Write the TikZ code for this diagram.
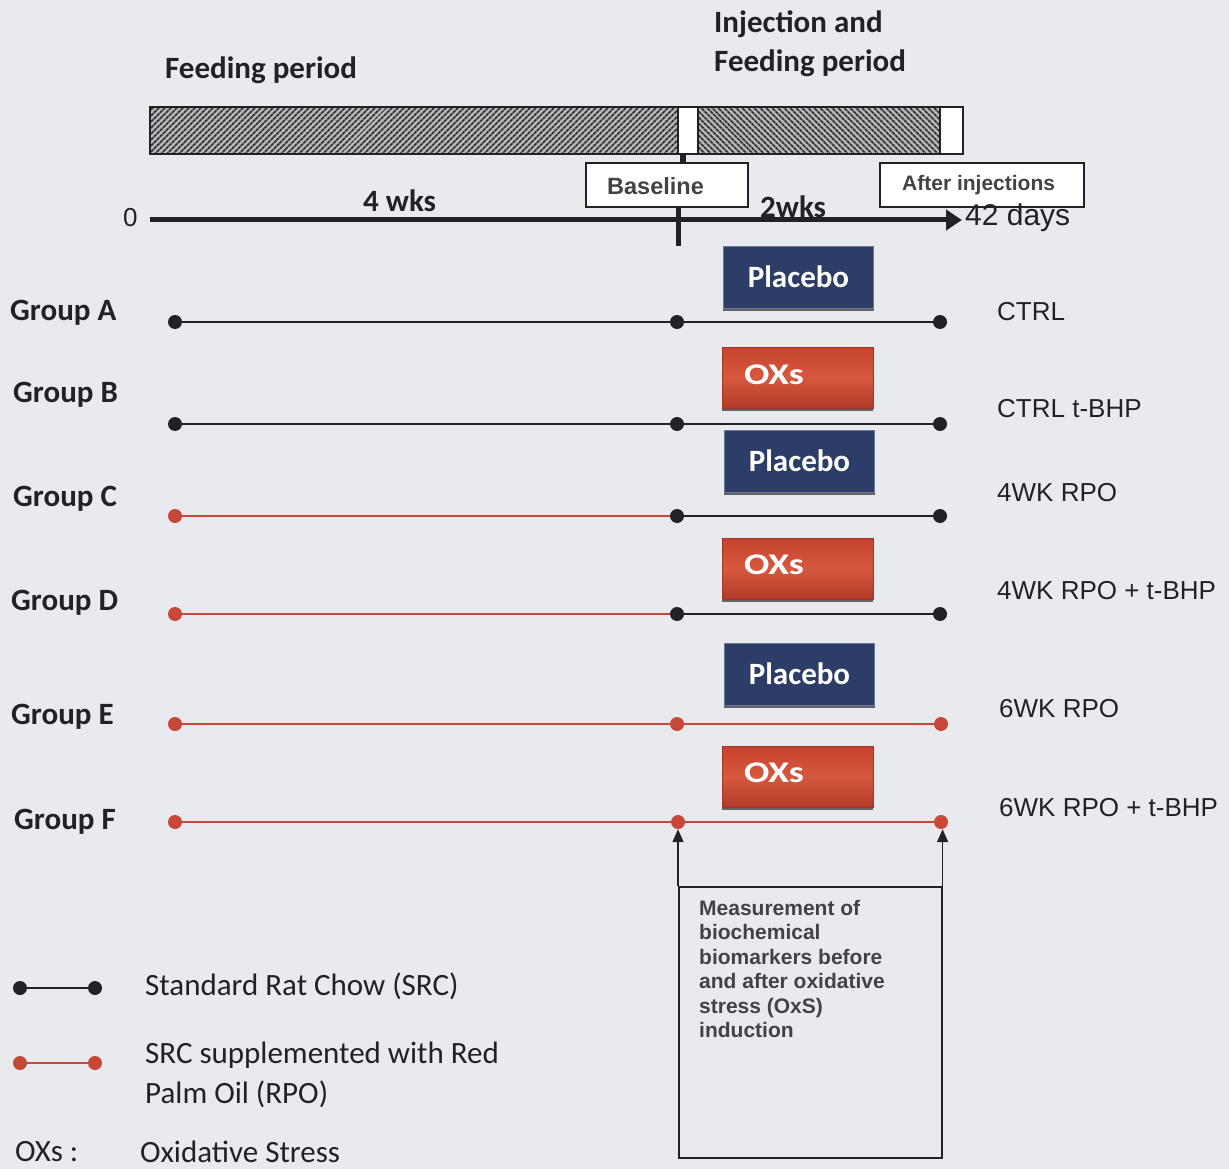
\documentclass[tikz,border=0pt]{standalone}
\usepackage{fontspec}
\setmainfont{Carlito}
\newfontfamily\arialf{Liberation Sans}
\usetikzlibrary{patterns.meta,arrows.meta}
\definecolor{bgc}{RGB}{233,234,238}
\definecolor{navy}{RGB}{44,62,104}
\definecolor{oxred}{RGB}{198,66,46}
\definecolor{oxlight}{RGB}{214,88,62}
\definecolor{rpo}{RGB}{200,72,56}
\definecolor{ink}{RGB}{34,34,38}
\begin{document}
\begin{tikzpicture}[x=1pt,y=-1pt,
  bdot/.style={circle,fill=ink,inner sep=0pt,minimum size=14pt},
  rdot/.style={circle,fill=rpo,inner sep=0pt,minimum size=14pt},
  bline/.style={draw=ink,line width=1.8pt},
  rline/.style={draw=rpo,line width=2pt},
  cal/.style={font=\fontsize{31}{37}\selectfont,text=ink,inner sep=0pt,anchor=west},
  calb/.style={font=\bfseries\fontsize{31}{37}\selectfont,text=ink,inner sep=0pt,anchor=west},
  arl/.style={font=\arialf\fontsize{26}{31}\selectfont,text=ink,inner sep=0pt,anchor=west},
  plac/.style={fill=navy,draw=navy!70!white,line width=0.8pt,minimum width=150pt,minimum height=62pt,inner sep=0pt,
     font=\bfseries\fontsize{31}{37}\selectfont,text=white},
  oxs/.style={draw=oxred!80!black,line width=0.6pt,top color=oxred,bottom color=oxred!90!black,middle color=oxlight,
     minimum width=151pt,minimum height=61pt,inner sep=0pt},
  oxt/.style={font=\bfseries\fontsize{30}{36}\selectfont,text=white,inner sep=0pt,anchor=west},
  lab/.style={draw=ink,line width=1.2pt,fill=white,inner sep=0pt,text=ink}
]
\useasboundingbox (0,0) rectangle (1229,1169);
\fill[bgc] (0,0) rectangle (1229,1169);

% titles
\node[calb] (t1) at (165,70) {Feeding period};
\node[calb] (t2) at (714,24) {Injection and};
\node[calb] (t3) at (714,63) {Feeding period};

% hatched bar
\fill[white] (150,107) rectangle (963,154);
\fill[gray!55] (150,107) rectangle (678,154);
\fill[gray!55] (698,107) rectangle (940,154);
\fill[pattern={Lines[angle=45,distance=4pt,line width=2.1pt]},pattern color=ink!90] (150,107) rectangle (678,154);
\fill[pattern={Lines[angle=-45,distance=4pt,line width=2.1pt]},pattern color=ink!90] (698,107) rectangle (940,154);
\draw[ink,line width=1.2pt] (150,107) rectangle (963,154);
\draw[ink,line width=1.2pt] (678,107) -- (678,154) (698,107) -- (698,154) (940,107) -- (940,154);

% label boxes
\node[lab,minimum width=162pt,minimum height=44pt] (base) at (667,185) {};
\node[font=\arialf\bfseries\fontsize{23.5}{28}\selectfont,text=ink!85,inner sep=0pt,anchor=west] (baset) at (607,186) {Baseline};
\node[lab,minimum width=204pt,minimum height=44pt] (after) at (982,185) {};
\node[font=\arialf\bfseries\fontsize{21}{25}\selectfont,text=ink!85,inner sep=0pt,anchor=west] (aftert) at (902,185) {After injections};
\draw[ink,line width=6pt] (683,154) -- (683,163);

% axis
\coordinate (ax0) at (150,220);
\coordinate (ax1) at (962,220);
\draw[ink,line width=5pt,-{Triangle[length=16pt,width=20pt]}] (ax0) -- (ax1);
\draw[ink,line width=5pt] (678,207) -- (678,246);
\node[arl] (zero) at (123,218) {0};
\node[arl,font=\arialf\fontsize{30}{35}\selectfont] (days) at (965,218) {42 days};
\node[calb] (w4) at (363,201) {4 wks};
\node[calb] (w2) at (760,207) {2wks};

% treatment boxes
\node[plac] (p1) at (798.5,277) {Placebo};
\node[oxs] (o1) at (797.5,377.5) {};
\node[plac] (p2) at (799.5,461) {Placebo};
\node[oxs] (o2) at (797.5,568.5) {};
\node[plac] (p3) at (799.5,674) {Placebo};
\node[oxs] (o3) at (797.5,777) {};
\foreach \b in {p1,o1,p2,o2,p3,o3}{
  \draw[ink!70,line width=2pt] ([yshift=-1.5pt]\b.south west) -- ([yshift=-1.5pt]\b.south east);
}
\node[oxt] (ox1t) at (744,375) {\scalebox{1.25}[1]{OXs}};
\node[oxt] (ox2t) at (744,565) {\scalebox{1.25}[1]{OXs}};
\node[oxt] (ox3t) at (744,773) {\scalebox{1.25}[1]{OXs}};

% group A
\node[calb] (ga) at (10,313) {Group A};
\node[bdot] (a1) at (175,322) {};
\node[bdot] (a2) at (677,322) {};
\node[bdot] (a3) at (940,322) {};
\draw[bline] (a1) -- (a2) -- (a3);
\node[arl] (ra) at (997,312) {CTRL};
% group B
\node[calb] (gb) at (13,395) {Group B};
\node[bdot] (b1) at (175,424) {};
\node[bdot] (b2) at (677,424) {};
\node[bdot] (b3) at (940,424) {};
\draw[bline] (b1) -- (b2) -- (b3);
\node[arl] (rb) at (997,409) {CTRL t-BHP};
% group C
\node[calb] (gc) at (13,499) {Group C};
\node[rdot] (c1) at (175,516) {};
\node[bdot] (c2) at (677,516) {};
\node[bdot] (c3) at (940,516) {};
\draw[rline] (c1) -- (c2);
\draw[bline] (c2) -- (c3);
\node[arl] (rc) at (997,493) {4WK RPO};
% group D
\node[calb] (gd) at (11,603) {Group D};
\node[rdot] (d1) at (175,614) {};
\node[bdot] (d2) at (677,614) {};
\node[bdot] (d3) at (940,614) {};
\draw[rline] (d1) -- (d2);
\draw[bline] (d2) -- (d3);
\node[arl] (rd) at (997,591) {4WK RPO + t-BHP};
% group E
\node[calb] (ge) at (11,717) {Group E};
\node[rdot] (e1) at (175,724) {};
\node[rdot] (e2) at (677,724) {};
\node[rdot] (e3) at (941,724) {};
\draw[rline] (e1) -- (e2) -- (e3);
\node[arl] (re) at (999,709) {6WK RPO};
% group F
\node[calb] (gf) at (14,822) {Group F};
\node[rdot] (f1) at (175,822) {};
\node[rdot] (f2) at (678,822) {};
\node[rdot] (f3) at (941,822) {};
\draw[rline] (f1) -- (f2) -- (f3);
\node[arl] (rf) at (999,808) {6WK RPO + t-BHP};

% measurement box
\node[draw=ink,line width=1.6pt,minimum width=263pt,minimum height=271pt,inner sep=0pt,anchor=north west] (meas) at (678,886) {};
\draw[ink,line width=1.6pt,-{Triangle[length=13pt,width=11pt]}] (meas.north west) -- (meas.north west |- f2.south);
\draw[ink,line width=1.6pt,-{Triangle[length=13pt,width=11pt]}] (meas.north east) -- (meas.north east |- f3.south);
\node[font=\arialf\bfseries\fontsize{21}{24.5}\selectfont,text=ink!85,align=left,inner sep=0pt,anchor=north west] (mtext) at (699,900)
 {Measurement of\\biochemical\\biomarkers before\\and after oxidative\\stress (OxS)\\induction};

% legend
\node[bdot] (l1) at (20,988) {};
\node[bdot] (l2) at (95,988) {};
\draw[bline] (l1) -- (l2);
\node[cal] (lt1) at (145,986) {Standard Rat Chow (SRC)};
\node[rdot] (l3) at (20,1063) {};
\node[rdot] (l4) at (95,1063) {};
\draw[rline] (l3) -- (l4);
\node[cal] (lt2) at (145,1055) {SRC supplemented with Red};
\node[cal] (lt3) at (145,1094) {Palm Oil (RPO)};
\node[cal] (lt4) at (15,1152) {OXs :};
\node[cal] (lt5) at (140,1152) {Oxidative Stress};
\end{tikzpicture}
\end{document}
